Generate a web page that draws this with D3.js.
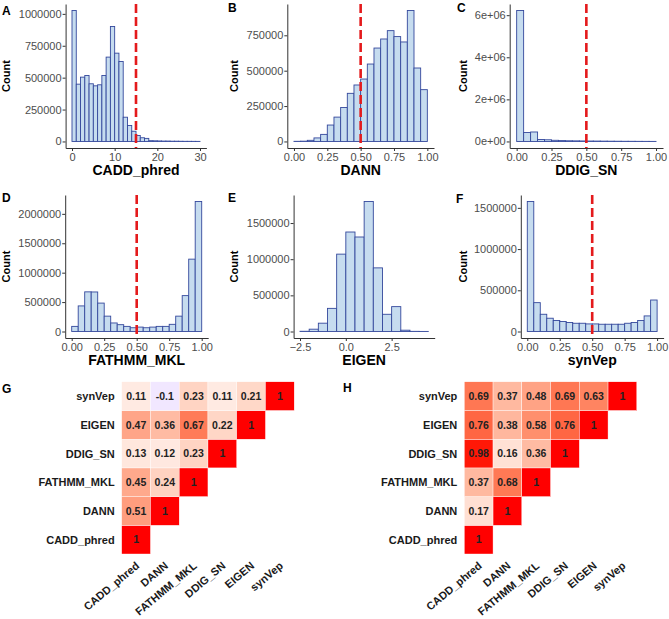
<!DOCTYPE html>
<html>
<head>
<meta charset="utf-8">
<script src="https://cdn.jsdelivr.net/npm/d3@7"></script>
<style>
    body { margin: 0; background: #fff; }
    svg text { font-family: "Liberation Sans", Arial, sans-serif; }
</style>
</head>
<body>
<svg id="fig" width="669" height="619"></svg>
<script>
// ---- histogram counts, one value per bin ----
const caddCounts = [1026000, 449000, 504000, 517000, 452000, 436000, 444000, 517000, 661000, 901000,
    692000, 627000, 190000, 125000, 80000, 47000, 29000, 24000, 6000, 5000,
    4000, 3000, 3000, 2000, 2000, 1500, 1000, 1000, 800, 500];
const dannCounts = [1000, 2000, 8000, 25000, 50000, 116000, 172000, 240000, 340000, 399000,
    441000, 547000, 660000, 724000, 783000, 741000, 703000, 925000, 519000, 366000];
const ddigCounts = [6220000, 425000, 450000, 95000, 80000, 55000, 40000, 32000, 28000, 24000,
    20000, 18000, 15000, 12000, 10000, 8000, 7000, 5000, 4000, 3000];
const fathmmCounts = [87000, 435000, 674000, 672000, 483000, 261000, 145000, 116000, 87000, 64000,
    75000, 64000, 75000, 87000, 87000, 122000, 261000, 610000, 1230000, 2210000];
const eigenCounts = [3000, 32000, 115000, 320000, 1070000, 1376000, 1307000, 1798000, 880000, 238000,
    344000, 18000, 2000, 1000];
const synvepCounts = [1577000, 350000, 209000, 161000, 133000, 121000, 109000, 100000, 100000, 92000,
    92000, 88000, 88000, 88000, 88000, 100000, 109000, 133000, 189000, 382000];

// bin layout (first bin's left edge, bin width)
const caddBin = [0, 1];
const unitBin = [0, 0.05];
const eigenBin = [-2.5, 0.5];

// tick labels
const caddXTicks = [0, 10, 20, 30];
const unitXTicks = [0, 0.25, 0.5, 0.75, 1];
const eigenXTicks = [-2.5, 0, 2.5];
const caddYTicks = [0, 250000, 500000, 750000, 1000000];
const dannYTicks = [0, 250000, 500000, 750000];
const ddigYTicks = [0, 2e6, 4e6, 6e6];
const fathmmYTicks = [0, 500000, 1000000, 1500000, 2000000];
const millionYTicks = [0, 500000, 1000000, 1500000];

// ---- correlation matrices (lower triangle, row i has columns 0..i) ----
const corrNames = ['CADD_phred', 'DANN', 'FATHMM_MKL', 'DDIG_SN', 'EIGEN', 'synVep'];
const corrG = [
    [1],
    [0.51, 1],
    [0.45, 0.24, 1],
    [0.13, 0.12, 0.23, 1],
    [0.47, 0.36, 0.67, 0.22, 1],
    [0.11, -0.1, 0.23, 0.11, 0.21, 1]
];
const corrH = [
    [1],
    [0.17, 1],
    [0.37, 0.68, 1],
    [0.98, 0.16, 0.36, 1],
    [0.76, 0.38, 0.58, 0.76, 1],
    [0.69, 0.37, 0.48, 0.69, 0.63, 1]
];

const histFill = '#c6dcef',
    histStroke = '#34489c',
    cutColor = '#e41a1c',
    axisColor = '#333',
    tickText = '#4d4d4d';

const plain = d3.format('d');
const sci = v => {
    // ggplot style 0e+00, 2e+06 ...
    let e = v === 0 ? 0 : Math.floor(Math.log10(v));
    return `${v === 0 ? 0 : Math.round(v / 10 ** e)}e+${String(e).padStart(2, '0')}`;
};

class Histogram {

    constructor(params) {
        this.svg = params.svg;
        this.p = params;
        this.render();
        return this;
    }

    render() {
        let p = this.p,
            [left, top, right, bottom] = p.box,
            [binStart, binWidth] = p.bin;

        // ggplot default expansion: 5% on each side
        let xLo = binStart,
            xHi = binStart + p.counts.length * binWidth,
            xPad = (xHi - xLo) * 0.05,
            yMax = d3.max(p.counts);

        let x = d3.scaleLinear().domain([xLo - xPad, xHi + xPad]).range([left, right]);
        let y = d3.scaleLinear().domain([-yMax * 0.05, yMax * 1.05]).range([bottom, top]);

        let g = this.svg.append('g').attr('class', `hist ${p.letter}`);

        g.selectAll('rect.bar')
            .data(p.counts)
            .enter().append('rect')
            .attr('class', 'bar')
            .attr('x', (d, i) => x(binStart + i * binWidth))
            .attr('width', (d, i) => x(binStart + (i + 1) * binWidth) - x(binStart + i * binWidth))
            .attr('y', d => y(d))
            .attr('height', d => y(0) - y(d))
            .attr('fill', histFill)
            .attr('stroke', histStroke)
            .attr('stroke-width', 0.9);

        if (p.cutoff != null) {
            g.append('line')
                .attr('x1', x(p.cutoff)).attr('x2', x(p.cutoff))
                .attr('y1', top).attr('y2', bottom)
                .attr('stroke', cutColor)
                .attr('stroke-width', 2.6)
                .attr('stroke-dasharray', '9,4');
        }

        let yAxis = g.append('g')
            .attr('transform', `translate(${left},0)`)
            .call(d3.axisLeft(y).tickValues(p.yTicks).tickFormat(p.yFmt)
                .tickSize(3).tickSizeOuter(0).tickPadding(1));

        let xAxis = g.append('g')
            .attr('transform', `translate(0,${bottom})`)
            .call(d3.axisBottom(x).tickValues(p.xTicks).tickFormat(p.xFmt)
                .tickSize(3).tickSizeOuter(0).tickPadding(2));

        [yAxis, xAxis].forEach(a => {
            a.select('.domain').attr('stroke', axisColor).attr('stroke-width', 1);
            a.selectAll('.tick line').attr('stroke', axisColor);
            a.selectAll('.tick text')
                .attr('fill', tickText)
                .style('font-size', '11px')
                .style('font-family', '"Liberation Sans", Arial, sans-serif');
        });

        g.append('text')
            .attr('x', (left + right) / 2)
            .attr('y', p.titleY)
            .attr('text-anchor', 'middle')
            .style('font-size', '14px')
            .style('font-weight', 'bold')
            .text(p.title);

        g.append('text')
            .attr('transform', `translate(${p.countX},${(top + bottom) / 2}) rotate(-90)`)
            .attr('text-anchor', 'middle')
            .style('font-size', '11px')
            .style('font-weight', 'bold')
            .text('Count');

        g.append('text')
            .attr('x', p.letterAt[0])
            .attr('y', p.letterAt[1])
            .style('font-size', '12px')
            .style('font-weight', 'bold')
            .text(p.letter);
    }
}

class CorrTriangle {

    constructor(params) {
        this.svg = params.svg;
        this.p = params;
        this.render();
        return this;
    }

    _fill(v) {
        // gradient2: blue - white - red, midpoint 0, Lab interpolation
        return v >= 0 ? d3.interpolateLab('#ffffff', '#ff0000')(v)
                      : d3.interpolateLab('#ffffff', '#0000ff')(-v);
    }

    render() {
        let p = this.p,
            [left, top, right, bottom] = p.box;

        let x = d3.scaleBand().domain(corrNames).range([left, right]);
        let y = d3.scaleBand().domain(corrNames).range([bottom, top]);

        let cells = [];
        p.values.forEach((row, i) => {
            row.forEach((v, j) => cells.push({row: corrNames[i], col: corrNames[j], v: v}));
        });

        let g = this.svg.append('g').attr('class', `corr ${p.letter}`);

        g.selectAll('rect.cell')
            .data(cells)
            .enter().append('rect')
            .attr('class', 'cell')
            .attr('x', d => x(d.col))
            .attr('y', d => y(d.row))
            .attr('width', x.bandwidth())
            .attr('height', y.bandwidth())
            .attr('fill', d => this._fill(d.v))
            .attr('stroke', '#fff')
            .attr('stroke-width', 0.4);

        g.selectAll('text.val')
            .data(cells)
            .enter().append('text')
            .attr('class', 'val')
            .attr('x', d => x(d.col) + x.bandwidth() / 2)
            .attr('y', d => y(d.row) + y.bandwidth() / 2)
            .attr('dy', '0.36em')
            .attr('text-anchor', 'middle')
            .attr('fill', '#222')
            .style('font-size', '10.5px')
            .style('font-weight', 'bold')
            .text(d => d.v);

        g.selectAll('text.rowlab')
            .data(corrNames)
            .enter().append('text')
            .attr('class', 'rowlab')
            .attr('x', left - 7)
            .attr('y', d => y(d) + y.bandwidth() / 2)
            .attr('dy', '0.36em')
            .attr('text-anchor', 'end')
            .attr('fill', '#1a1a1a')
            .style('font-size', '11px')
            .style('font-weight', 'bold')
            .text(d => d);

        // slanted column labels, ending just right of each column centre
        g.selectAll('text.collab')
            .data(corrNames)
            .enter().append('text')
            .attr('class', 'collab')
            .attr('transform', d => `translate(${x(d) + x.bandwidth() / 2 + 4},${bottom + 13}) rotate(-40)`)
            .attr('text-anchor', 'end')
            .attr('fill', '#1a1a1a')
            .style('font-size', '11px')
            .style('font-weight', 'bold')
            .text(d => d);

        g.append('text')
            .attr('x', p.letterAt[0])
            .attr('y', p.letterAt[1])
            .style('font-size', '12px')
            .style('font-weight', 'bold')
            .text(p.letter);
    }
}

let svg = d3.select('#fig');

let histSpecs = [
    {letter: 'A', title: 'CADD_phred', counts: caddCounts, bin: caddBin, cutoff: 15,
     xTicks: caddXTicks, xFmt: plain, yTicks: caddYTicks, yFmt: plain,
     box: [65.6, 4, 206.4, 148], titleY: 175, countX: 10, letterAt: [2, 15]},
    {letter: 'B', title: 'DANN', counts: dannCounts, bin: unitBin, cutoff: 0.5,
     xTicks: unitXTicks, xFmt: d3.format('.2f'), yTicks: dannYTicks, yFmt: plain,
     box: [287.3, 4, 434, 148], titleY: 175, countX: 238, letterAt: [228, 12]},
    {letter: 'C', title: 'DDIG_SN', counts: ddigCounts, bin: unitBin, cutoff: 0.5,
     xTicks: unitXTicks, xFmt: d3.format('.2f'), yTicks: ddigYTicks, yFmt: sci,
     box: [509.7, 4, 663, 148], titleY: 175, countX: 467, letterAt: [457, 12]},
    {letter: 'D', title: 'FATHMM_MKL', counts: fathmmCounts, bin: unitBin, cutoff: 0.5,
     xTicks: unitXTicks, xFmt: d3.format('.2f'), yTicks: fathmmYTicks, yFmt: plain,
     box: [65.2, 195, 208.2, 338], titleY: 365, countX: 10, letterAt: [2, 202]},
    {letter: 'E', title: 'EIGEN', counts: eigenCounts, bin: eigenBin, cutoff: null,
     xTicks: eigenXTicks, xFmt: d3.format('.1f'), yTicks: millionYTicks, yFmt: plain,
     box: [293.6, 195, 434.7, 338], titleY: 365, countX: 238, letterAt: [228, 202]},
    {letter: 'F', title: 'synVep', counts: synvepCounts, bin: unitBin, cutoff: 0.5,
     xTicks: unitXTicks, xFmt: d3.format('.2f'), yTicks: millionYTicks, yFmt: plain,
     box: [520.8, 195, 663.6, 338], titleY: 365, countX: 467, letterAt: [456, 203]}
];

histSpecs.forEach(spec => new Histogram(Object.assign({svg: svg}, spec)));

new CorrTriangle({svg: svg, letter: 'G', values: corrG,
    box: [121.7, 381.8, 294.2, 554], letterAt: [2, 393]});
new CorrTriangle({svg: svg, letter: 'H', values: corrH,
    box: [464.3, 381.8, 636.8, 554], letterAt: [343, 392]});
</script>
</body>
</html>
